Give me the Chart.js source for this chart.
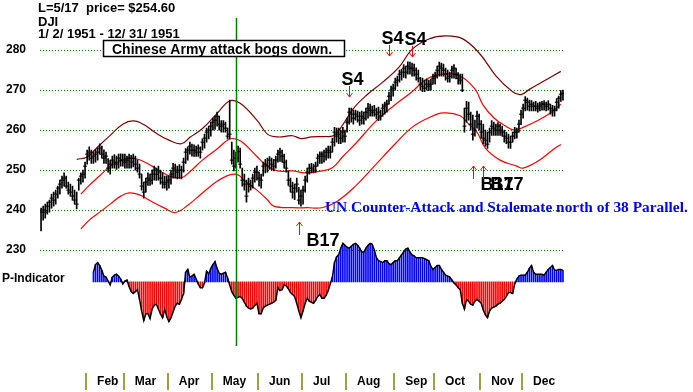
<!DOCTYPE html>
<html>
<head>
<meta charset="utf-8">
<script src="https://cdn.jsdelivr.net/npm/chart.js@4.4.1/dist/chart.umd.min.js"></script>
<style>
html,body{margin:0;padding:0;background:#fff;}
canvas{display:block;}
</style>
</head>
<body>
<canvas id="c" width="693" height="392"></canvas>
<script>
// ---------------- DATA ----------------
const monthNames = ['Jan','Feb','Mar','Apr','May','Jun','Jul','Aug','Sep','Oct','Nov','Dec'];
const monthDays  = [22,18,21,21,22,21,21,23,19,22,20,20]; // trading days per month, 1951
const priceTicks = [230,240,250,260,270,280];

// daily highs
const hi = [
240.5,241,241.5,242,242.5,244,244.5,245,246,247.5,248.5,249.3,248.5,247,246.5,246,245,244.5,248,249.3,250,252,
255,255.8,255,254.5,255.1,255.5,256.6,256,255.1,254.5,252.9,252.5,253.5,253.9,253.5,254,254.1,254,
254,253.5,254,253.7,254,253.5,252.5,251.5,249,247,248,249.3,249,250,251,250.5,251,250,249.3,248.5,248.6,
248.6,250,251.7,251.5,251,251.4,251,253,255.4,255.8,257,256.5,256.3,256,256.3,255.8,257.8,259,260.5,261,262,
263,263.5,264.5,263.5,262.4,262.4,262,260.5,267.5,257,255,254.5,256,255.5,250.5,249,247.5,248,247.5,249,250.5,251,
249.5,249,252,252.7,253,253.4,253,252.7,253.5,255,255.5,255,254,252.5,249.8,248,247,246.5,248,245.7,245,
246,248.5,250.5,251.5,251.7,251.5,252,254,254.6,254.6,255,255.5,256,256,258,260.7,260.5,260.5,260,260.7,260,
263,265.5,265.5,265,265,264.8,264.5,264.8,264.5,265.5,266.7,266.5,266,266.2,265.5,265.8,265,266.5,267,267.5,269.5,271,271.5,
273,273.5,275,275.2,276.4,276,277.1,277,276.8,276.5,275.6,275,273.2,273,272.5,272.8,272.5,272.8,274,
274.5,276,277,276.8,276.5,275.5,275,274.5,276,276.4,275.5,274.4,274,274,265.5,267.2,267,264.5,263.8,262.5,264.8,264,
262.4,261.5,260,259.5,260.5,262.4,262,261.5,261.9,261.5,261,260,259.5,259,258.5,259.5,260.7,260.5,262.5,265,
266.5,268.4,268,267.5,267.4,267,267.2,266.8,267,267.2,267.4,267,267.4,266.5,266.2,266,267.9,268.5,269.9,270
];
// daily lows
const lo = [
234.8,237.5,238,239,239.5,240.5,241,241.5,243,244,245.5,246,245.5,244,243.5,242.5,241.5,240.3,245,246.5,247,248,
251.5,252.5,251.7,251.7,252,252.5,254,253,251.7,251.7,249.5,249,250.5,250.5,250.2,250.5,251,251,
250.5,250.5,250.5,250.5,250.8,250,249.5,248,245,243,244.5,246.2,246.2,246.5,247.5,247.4,247.5,246.5,245.5,245.5,245,
245.5,246.5,248,248,247.8,248,247.8,249.5,251.7,252.5,254,253.5,253.4,253.4,253.4,253,255,255.5,257,257.8,258.5,
260,260.2,261,260,259.5,259.5,259.5,257.8,257.8,251.5,249.8,250.5,252,250.5,246,245,242,244.5,245,245.5,247,247.5,
246,245.5,248.5,249.3,249.5,250.2,250,249.8,250.5,252,252.2,252,250.5,249.5,246.2,244.5,243,242.6,244.5,241.5,241,
241.5,244.5,247,249,249.3,249.3,249.5,251,251.7,251.7,252,252.5,253,253,254.5,256,257,256.6,256.6,257,257,
259.5,261.5,262,261.5,262.5,262,261.2,261.5,261.5,262.5,263,263.5,263.5,263.5,262.8,262.4,262.5,263.5,264,264.5,266.5,267.4,268.5,
270,271,272,272.5,273.2,273,274,274,273.5,273.5,272.5,272,270,269.6,269.6,270,269.9,270,271.5,
271.5,273,273.5,273.5,273.5,272.5,272,272,273,273,272.8,271.5,271.5,269.6,259.5,262,262.5,260,257.5,258.5,260.5,260,
258,256.6,256,255.4,257,258.7,258.7,258.7,258.7,258.7,258.5,257,256.6,255.5,255.4,257,257.8,258,259.5,261.4,
263,264.8,265,264.8,264.8,264.8,264.8,264.5,264.8,265,265,264.8,265,264,263.5,263.5,264.8,265.5,267.2,267.5
];
// daily closes
const cl = [
239.5,240,239.5,241,242,243,242.5,244,245.5,246.5,247.5,248,246,245,244.5,243.5,242.5,241.5,247.5,248.5,249,251,
254,254.5,253,253.5,254,254.5,255.5,254,253,253.5,250.5,251.5,252.5,252,251.5,253,252.5,252.5,
252,252.5,253,252,253,251.5,250.5,249,246,244.5,247,248,247.5,249,250,249,249.5,248,247,246.5,247,
247.5,249,250.5,250,249.5,250,250,252,254.5,255,256,255,255,254.5,255.5,254.5,257,258,259.5,260,261,
262,262.5,263.5,261.5,261,261.5,260.5,258.5,259,252.5,251,253,254.6,251.5,247.5,246.5,243.5,246.5,246,248,249.5,249.5,
248,247.5,251,251.5,251,252.5,251.5,251,252.5,254,254.5,253.5,252,250.5,247.5,246,244.5,245.5,246.5,242.5,243.5,
245,247.5,249.5,250.5,250.5,250,251,253,253.5,254,253.5,254.5,255,254.5,257,259.5,258.5,259,258,259.5,258.5,
262,264.5,264,263,264,263.5,262.5,263.5,263,264.5,265.5,265,264.5,265,264,264.5,263.5,265.5,266,266.5,268.5,270,270.5,
272,272.5,274,274.5,275.5,274.5,276,275.5,275.5,275,274,273,271.5,271,270.5,271.5,271,271.5,273,
273.5,275,276,275.5,275,274,273,273.5,275,275.5,274,273,272.5,270,261,265.5,264,261.5,259,260,263.5,261.5,
259.5,258,257.5,256.5,259.5,261,260.5,260,261,260,259.5,258.5,258,257,257,258.5,259.5,259.5,261.5,264,
265.5,267.5,267,266,266.5,266,266,265.5,266,266.5,266.5,266,266.5,265.5,265,265,267,268,269,269.2
];

// P-Indicator (daily, starts in February)
const pInd = [
null,null,null,null,null,null,null,null,null,null,null,null,null,null,null,null,null,null,null,null,null,null,null,null,null,
10,18,20,17,12,6,5,1,-3,5,7,8,6,3,-2,
1,2,-5,-10,-12,-10,-8,-18,-30,-40,-33,-33,-38,-28,-24,-23,-28,-33,-37,-28,-36,
-41,-37,-31,-25,-22,-23,-18,-12,10,13,5,6,8,3,-2,-6,-6,-1,11,8,14,
18,21,14,9,8,9,10,4,-3,-10,-14,-17,-16,-15,-17,-21,-25,-27,-28,-27,-24,-22,
-33,-33,-27,-25,-24,-23,-22,-21,-19,-6,-9,-8,-3,-4,-7,-11,-13,-15,-22,-30,-37,
-30,-22,-17,-20,-21,-22,-19,-15,-13,-17,-17,-14,-9,-2,5,20,26,28,35,40,38,
36,35,37,39,40,38,35,31,31,35,38,40,39,33,25,22,21,20,22,22,19,18,20,
22,22,25,28,31,34,35,31,28,27,25,25,25,25,24,23,22,16,13,
15,17,17,13,10,7,6,5,2,-1,-3,-6,-8,-22,-28,-18,-20,-23,-24,-20,-18,-20,
-22,-29,-34,-37,-30,-27,-26,-25,-23,-22,-20,-18,-15,-11,-11,-12,-2,3,6,7,
7,7,10,14,17,10,8,8,8,8,7,10,13,15,17,12,12,13,13,12
];

// envelope bands, [trading day, value]
const upperBand = [[17,252.7],[22,253.3],[27,255.8],[33,258.7],[39,261.5],[44,262.3],[49,261.4],[55,259.2],[61,257.5],[67,256.6],[71,258.2],[77,260.4],[84,264.2],[90,267.3],[95,266.7],[103,262.5],[108,259],[113,258.3],[120,258.6],[124,257.9],[129,258.3],[135,258.4],[140,258.7],[144,261.4],[149,265.4],[155,268.6],[163,272],[171,275.9],[177,280.2],[185,282.8],[193,283.6],[201,282.9],[209,279.3],[217,273.6],[225,269.6],[229,268.9],[233,270.2],[241,272.6],[248,274.7]];
const middleBand = [[19,244],[23,246.2],[28,248.6],[33,251],[38,252.3],[42,253],[47,252.6],[53,251],[61,248.6],[67,248.1],[71,249.6],[77,252.5],[84,255.3],[90,257.8],[94,257.6],[97,256.6],[103,253.4],[108,251],[113,249.8],[120,249.8],[126,249.3],[134,249.8],[139,250.6],[144,253.4],[150,256.6],[160,262.4],[168,266],[177,269.6],[184,272.8],[192,274],[200,273.5],[207,270.3],[211,266.2],[216,263.1],[221,261.2],[226,260],[230,260.7],[237,262.4],[243,264.3],[248,266.5]];
const lowerBand = [[19,235.3],[23,237.5],[28,239.5],[33,241.5],[38,243.5],[42,244.3],[47,243.8],[53,242.1],[59,240.5],[64,239.4],[70,241.2],[77,244.3],[84,247.2],[90,248.8],[94,248.8],[97,247.4],[103,245],[108,242.6],[111,241],[120,240.6],[127,240.6],[134,240.6],[141,242.1],[150,246],[159,251],[169,256.6],[177,260.7],[185,263.1],[192,264.3],[200,263.6],[204,261.5],[208,259.5],[212,255.5],[219,252.5],[227,251],[230,250.5],[237,252.2],[245,255.4],[248,256.4]];

// signals: label, trading day, price the arrow points at, direction (-1 down / 1 up)
const signals = [
  {t:'S4', day:147, price:268.4, dir:-1},
  {t:'S4', day:166, price:278.5, dir:-1},
  {t:'S4', day:177, price:278.3, dir:-1},
  {t:'B17', day:123, price:237, dir:1},
  {t:'B17', day:206, price:251, dir:1},
  {t:'B17', day:211, price:251, dir:1}
];
const markerDay = 93; // L=5/17
const headerLines = ['L=5/17  price= $254.60', 'DJI', '1/ 2/ 1951 - 12/ 31/ 1951'];
const boxNote = 'Chinese Army attack bogs down.';
const warNote = 'UN Counter-Attack and Stalemate north of 38 Parallel.';
const indicatorName = 'P-Indicator';

// ---------------- CHART ----------------
const SANS = "'Liberation Sans', Arial, sans-serif";
const days = hi.map((_, i) => i);
const boundaries = [];
{ let c = 0; for (let m = 0; m < monthDays.length - 1; m++) { c += monthDays[m]; boundaries.push(c - 0.5); } }

const annot = {
  id: 'annot',
  afterDraw(chart) {
    const ctx = chart.ctx, xs = chart.scales.x, ys = chart.scales.y;
    ctx.save();
    // month separators
    ctx.strokeStyle = '#808000'; ctx.lineWidth = 1.5;
    boundaries.forEach(b => {
      const x = Math.round(xs.getPixelForValue(b));
      ctx.beginPath(); ctx.moveTo(x, 373); ctx.lineTo(x, 390); ctx.stroke();
    });
    // marker line
    const mx = Math.round(xs.getPixelForValue(markerDay)) + 0.5;
    ctx.strokeStyle = '#008000'; ctx.lineWidth = 1.5;
    ctx.beginPath(); ctx.moveTo(mx, 18); ctx.lineTo(mx, 346); ctx.stroke();

    // header
    ctx.fillStyle = '#000';
    ctx.font = 'bold 13px ' + SANS;
    ctx.textBaseline = 'alphabetic'; ctx.textAlign = 'left';
    ctx.fillText(headerLines[0], 38, 12);
    ctx.fillText(headerLines[1], 38, 26);
    ctx.fillText(headerLines[2], 38, 38);

    // box
    ctx.fillStyle = '#fff'; ctx.fillRect(103, 40, 242, 17);
    ctx.strokeStyle = '#000'; ctx.lineWidth = 1.5; ctx.strokeRect(103.5, 40.5, 241, 16);
    ctx.fillStyle = '#000'; ctx.font = 'bold 14px ' + SANS;
    ctx.fillText(boxNote, 112, 54);

    // war note
    ctx.fillStyle = '#0000ff'; ctx.font = "bold 15.4px 'Liberation Serif', 'Times New Roman', serif";
    ctx.fillText(warNote, 325, 212);

    // indicator name
    ctx.fillStyle = '#000'; ctx.font = 'bold 12px ' + SANS;
    ctx.fillText(indicatorName, 2, 282);

    // signals
    signals.forEach(s => {
      const x = Math.round(xs.getPixelForValue(s.day)) + 0.5;
      const tip = Math.round(ys.getPixelForValue(s.price));
      ctx.strokeStyle = '#ff0000'; ctx.lineWidth = 1;
      ctx.beginPath();
      if (s.dir < 0) {
        ctx.moveTo(x, tip - 11); ctx.lineTo(x, tip);
        ctx.moveTo(x - 3, tip - 4); ctx.lineTo(x, tip); ctx.lineTo(x + 3, tip - 4);
      } else {
        ctx.moveTo(x, tip + 13); ctx.lineTo(x, tip);
        ctx.moveTo(x - 3, tip + 4); ctx.lineTo(x, tip); ctx.lineTo(x + 3, tip + 4);
      }
      ctx.stroke();
      ctx.fillStyle = '#000'; ctx.font = 'bold 18px ' + SANS;
      if (s.dir < 0) ctx.fillText(s.t, x - 8, tip - 12);
      else ctx.fillText(s.t, x + 7, tip + 24);
    });
    ctx.restore();
  }
};

new Chart(document.getElementById('c'), {
  type: 'bar',
  data: {
    datasets: [
      { type:'line', data: cl.map((v,i)=>({x:i, y:v})), showLine:false, pointStyle:'line', pointRadius:2, pointHoverRadius:2, pointBorderWidth:1, pointBorderColor:'#000', borderColor:'#000', yAxisID:'y', order:1 },
      { type:'bar', data: days.map(i=>({x:i, y:[lo[i], hi[i]]})), backgroundColor:'#000', barThickness:1, grouped:false, yAxisID:'y', order:2 },
      { type:'line', data: upperBand.map(p=>({x:p[0], y:p[1]})), borderColor:'#800000', borderWidth:1.2, pointRadius:0, tension:0.4, yAxisID:'y', order:3 },
      { type:'line', data: middleBand.map(p=>({x:p[0], y:p[1]})), borderColor:'#ff0000', borderWidth:1.2, pointRadius:0, tension:0.4, yAxisID:'y', order:3 },
      { type:'line', data: lowerBand.map(p=>({x:p[0], y:p[1]})), borderColor:'#ff0000', borderWidth:1.2, pointRadius:0, tension:0.4, yAxisID:'y', order:3 },
      { type:'line', data: pInd.map((v,i)=>({x:i, y:v})), borderColor:'#000', borderWidth:1.5, pointRadius:0, tension:0, spanGaps:false, yAxisID:'yP', order:4 },
      { type:'bar', data: pInd.map((v,i)=>({x:i, y:v})), backgroundColor: pInd.map(v => v === null ? 'rgba(0,0,0,0)' : (v >= 0 ? '#0000ff' : '#ff0000')), barThickness:1, grouped:false, yAxisID:'yP', order:5 }
    ]
  },
  options: {
    responsive:false, animation:false, devicePixelRatio:1, events:[],
    layout:{ padding:{ top:10, right:129, left:0, bottom:0 } },
    plugins:{ legend:{display:false}, tooltip:{enabled:false} },
    scales:{
      x:{ type:'linear', min:-0.5, max:249.5, offset:false,
        afterBuildTicks: s => { s.ticks = boundaries.map(v => ({value:v})); },
        afterFit: s => { s.height = 20; },
        ticks:{ autoSkip:false, maxRotation:0, align:'start', labelOffset:11, padding:4, color:'#000',
          font:{ family:SANS, size:12, weight:'bold' },
          callback:(v, i) => monthNames[i + 1] },
        grid:{ display:false, drawTicks:false },
        border:{ display:false }
      },
      y:{ type:'linear', position:'left', min:199.81, max:287.25,
        afterBuildTicks: s => { s.ticks = priceTicks.map(v => ({value:v})); },
        afterFit: s => { s.width = 40; },
        ticks:{ padding:14, color:'#000', font:{ family:SANS, size:12, weight:'bold' } },
        grid:{ color:'#008000', drawTicks:false, lineWidth:1 },
        border:{ display:false, dash:[1,2] }
      },
      yP:{ type:'linear', display:false, min:-92, max:270 }
    }
  },
  plugins:[annot]
});
</script>
</body>
</html>
